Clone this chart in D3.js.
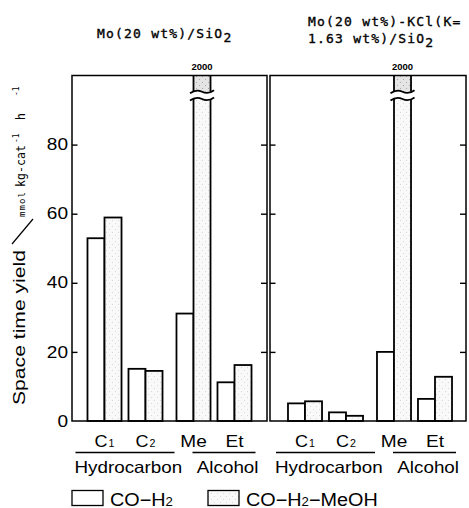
<!DOCTYPE html>
<meta charset="utf-8">
<style>
  body { margin: 0; background: #fff; }
  .sans { font-family: "Liberation Sans", Arial, sans-serif; fill: #000; }
  .mono { font-family: "DejaVu Sans Mono", monospace; fill: #000; }
  .frame { fill: none; stroke: #000; stroke-width: 1.5px; }
  .bar { stroke: #000; stroke-width: 1.8px; }
  .tick line { stroke: #000; stroke-width: 1.4px; }
</style>
<svg width="469" height="508"></svg>
<script src="https://cdn.jsdelivr.net/npm/d3@7"></script>
<script>

    // categories and groups
    var categories = ["C1", "C2", "Me", "Et"];
    var catMain = ["C", "C", "Me", "Et"];
    var catSub = ["1", "2", "", ""];
    var groupNames = ["Hydrocarbon", "Alcohol"];
    var groupOf = ["Hydrocarbon", "Hydrocarbon", "Alcohol", "Alcohol"];
    var seriesNames = ["CO-H2", "CO-H2-MeOH"];

    // space time yield, mmol kg-cat^-1 h^-1
    var moSiO2_COH2 = [52.9, 15.1, 31.1, 11.2];
    var moSiO2_COH2MeOH = [58.9, 14.5, 2000, 16.2];
    var moKCl_COH2 = [5.1, 2.5, 20.0, 6.4];
    var moKCl_COH2MeOH = [5.7, 1.5, 2000, 12.8];

    var yTicks = [0, 20, 40, 60, 80];
    var yMax = 100;
    var breakLo = 93.2, breakHi = 95.3;   // where the 2000 bar is cut

    var svg = d3.select("svg");

    var y = d3.scaleLinear().domain([0, yMax]).range([421, 75.5]);

    var defs = svg.append("defs");
    function stipple(id, base, dot) {
        var p = defs.append("pattern").attr("id", id)
            .attr("width", 6).attr("height", 6)
            .attr("patternUnits", "userSpaceOnUse");
        p.append("rect").attr("width", 6).attr("height", 6).attr("fill", base);
        p.append("rect").attr("x", 1).attr("y", 1).attr("width", 1).attr("height", 1).attr("fill", dot);
        p.append("rect").attr("x", 4).attr("y", 4).attr("width", 1).attr("height", 1).attr("fill", dot);
    }
    stipple("stip", "#f9f9f9", "#d9d9d9");
    stipple("stipDense", "#e4e4e4", "#aaaaaa");
    var fills = {"CO-H2": "#fff", "CO-H2-MeOH": "url(#stip)"};

    function stretch(sel, k) {
        sel.each(function () {
            var w = this.getComputedTextLength();
            d3.select(this).attr("textLength", w * k).attr("lengthAdjust", "spacingAndGlyphs");
        });
    }

    var panels = [
        {frame: [72, 267], inner: [72, 267], series: [moSiO2_COH2, moSiO2_COH2MeOH]},
        {frame: [270, 466], inner: [272.5, 467.5], series: [moKCl_COH2, moKCl_COH2MeOH]}
    ];

    var subIndex = categories.map(function (c, i) {
        return categories.filter(function (d, j) { return j < i && groupOf[j] === groupOf[i]; }).length;
    });

    panels.forEach(function (p, pi) {
        var g = svg.append("g");

        var gx = d3.scaleBand().domain(groupNames).range(p.inner)
            .paddingInner(0.157).paddingOuter(0.174);
        var cx = d3.scaleBand().domain([0, 1]).range([0, gx.bandwidth()]).paddingInner(0.17);
        var sx = d3.scaleBand().domain(seriesNames).range([0, cx.bandwidth()]);
        function catX(i) { return gx(groupOf[i]) + cx(subIndex[i]); }

        // bars
        seriesNames.forEach(function (s, si) {
            var vals = p.series[si];
            vals.forEach(function (v, i) {
                var x0 = catX(i) + sx(s), w = sx.bandwidth();
                if (v <= yMax) {
                    g.append("rect").attr("class", "bar")
                        .attr("x", x0).attr("y", y(v))
                        .attr("width", w).attr("height", y(0) - y(v))
                        .attr("fill", fills[s]);
                } else {
                    var yTop = y(yMax), yb = y(breakHi), yt = y(breakLo);
                    g.append("rect").attr("x", x0).attr("y", yTop).attr("width", w)
                        .attr("height", yb - yTop).attr("fill", "url(#stipDense)");
                    g.append("rect").attr("x", x0).attr("y", yt).attr("width", w)
                        .attr("height", y(0) - yt).attr("fill", fills[s]);
                    g.append("path").attr("class", "bar").attr("fill", "none")
                        .attr("d", "M" + x0 + "," + yTop + "V" + yb + "M" + (x0 + w) + "," + yTop + "V" + yb +
                            "M" + x0 + "," + y(0) + "V" + yt + "M" + (x0 + w) + "," + y(0) + "V" + yt);
                    [yb, yt].forEach(function (yy) {
                        var a = x0 - 3.5, b = x0 + w + 3.5, m = (a + b) / 2;
                        g.append("path").attr("class", "bar").attr("fill", "none")
                            .attr("d", "M" + a + "," + (yy + 1.5) +
                                "Q" + ((a + m) / 2) + "," + (yy - 3) + " " + m + "," + yy +
                                "T" + b + "," + (yy - 1.5));
                    });
                    g.append("text").attr("class", "sans")
                        .attr("x", x0 + w / 2).attr("y", 69.5)
                        .attr("text-anchor", "middle")
                        .attr("font-size", 9.5).attr("font-weight", "bold")
                        .text(v);
                }
            });
        });

        // frame
        g.append("rect").attr("class", "frame")
            .attr("x", p.frame[0]).attr("y", y(yMax))
            .attr("width", p.frame[1] - p.frame[0]).attr("height", y(0) - y(yMax));

        // inward ticks on both sides
        g.append("g").attr("transform", "translate(" + p.frame[0] + ",0)")
            .call(d3.axisLeft(y).tickValues(yTicks.slice(1)).tickSizeInner(-5.5).tickSizeOuter(0).tickFormat(""))
            .select(".domain").remove();
        g.append("g").attr("transform", "translate(" + p.frame[1] + ",0)")
            .call(d3.axisRight(y).tickValues(yTicks.slice(1)).tickSizeInner(-6).tickSizeOuter(0).tickFormat(""))
            .select(".domain").remove();

        // category labels
        categories.forEach(function (c, i) {
            var t = g.append("text").attr("class", "sans")
                .attr("x", catX(i) + cx.bandwidth() / 2).attr("y", 447)
                .attr("text-anchor", "middle").attr("font-size", 17);
            t.append("tspan").text(catMain[i]);
            if (catSub[i]) t.append("tspan").attr("font-size", 10).attr("dx", 1).text(catSub[i]);
            stretch(t, 1.12);
        });

        // group labels and rules
        groupNames.forEach(function (gn, gi) {
            var a = gx(gn), b = a + gx.bandwidth();
            var line = gi === 0 ? [a - 12, b + 12] : [a + 16, b + 4];
            g.append("line").attr("x1", line[0]).attr("x2", line[1])
                .attr("y1", 452.5).attr("y2", 452.5)
                .attr("stroke", "#000").attr("stroke-width", 1.3);
            var t = g.append("text").attr("class", "sans")
                .attr("x", gi === 0 ? a - 13 : b + 7).attr("y", 473)
                .attr("text-anchor", gi === 0 ? "start" : "end")
                .attr("font-size", 16.5).text(gn);
            stretch(t, 1.14);
        });
    });

    // y tick labels
    var yl = svg.append("g").attr("transform", "translate(72,0)")
        .call(d3.axisLeft(y).tickValues(yTicks).tickSize(0).tickPadding(4));
    yl.select(".domain").remove();
    yl.selectAll("text").attr("class", "sans").attr("font-family", null)
        .attr("font-size", 17).attr("dy", "0.3em");
    stretch(yl.selectAll("text"), 1.12);

    // y axis title
    var yt = svg.append("g").attr("transform", "translate(25,0) rotate(-90)");
    yt.append("text").attr("class", "sans").attr("x", -405).attr("y", 0)
        .attr("font-size", 16.5).attr("textLength", 155).attr("lengthAdjust", "spacingAndGlyphs")
        .text("Space time yield");
    yt.append("text").attr("class", "mono").attr("x", -217).attr("y", 0)
        .attr("font-size", 9).attr("textLength", 25).text("mmol");
    yt.append("text").attr("class", "mono").attr("x", -187).attr("y", 0)
        .attr("font-size", 11.5).attr("textLength", 42).text("kg-cat");
    yt.append("text").attr("class", "mono").attr("x", -143).attr("y", -6)
        .attr("font-size", 8).text("-1");
    yt.append("text").attr("class", "mono").attr("x", -120).attr("y", 0)
        .attr("font-size", 11.5).text("h");
    yt.append("text").attr("class", "mono").attr("x", -96).attr("y", -6)
        .attr("font-size", 8).text("-1");
    svg.append("line").attr("x1", 12).attr("y1", 244).attr("x2", 33).attr("y2", 219)
        .attr("stroke", "#000").attr("stroke-width", 1.2);

    // panel titles
    function title(x, yy, main, sub) {
        var t = svg.append("text").attr("class", "mono")
            .attr("x", x).attr("y", yy).attr("font-size", 13)
            .attr("letter-spacing", 1.2)
            .attr("stroke", "#000").attr("stroke-width", 0.35);
        t.append("tspan").text(main);
        if (sub) t.append("tspan").attr("dy", 4.5).text(sub);
    }
    title(97, 37.7, "Mo(20 wt%)/SiO", "2");
    title(308, 25.7, "Mo(20 wt%)-KCl(K=", "");
    title(308, 42.5, "1.63 wt%)/SiO", "2");

    // legend
    var legendX = [72, 208];
    seriesNames.forEach(function (s, i) {
        svg.append("rect").attr("x", legendX[i]).attr("y", 490.5)
            .attr("width", 31).attr("height", 15)
            .attr("fill", fills[s]).attr("stroke", "#000").attr("stroke-width", 1.3);
        var t = svg.append("text").attr("class", "sans")
            .attr("x", legendX[i] + 38).attr("y", 505.5).attr("font-size", 18);
        t.append("tspan").text("CO\u2212H");
        t.append("tspan").attr("font-size", 12).text("2");
        if (i === 1) t.append("tspan").text("\u2212MeOH");
        stretch(t, 1.1);
    });

</script>
